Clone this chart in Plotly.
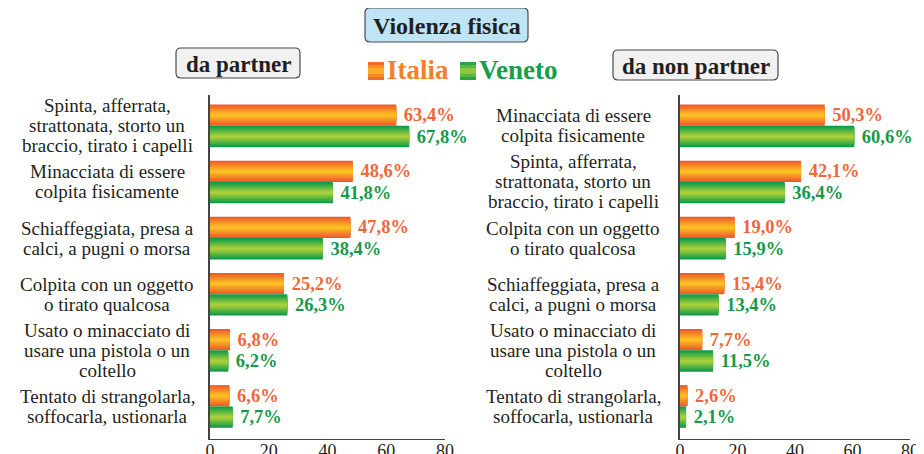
import plotly.graph_objects as go

W, H = 924, 454
OFF = 8  # the page body adds an 8px margin round the figure
MT, MB = 95 - OFF, 454 - 439 + OFF

# --- data ---
labels_partner = [
    "Spinta, afferrata,<br>strattonata, storto un<br>braccio, tirato i capelli",
    "Minacciata di essere<br>colpita fisicamente",
    "Schiaffeggiata, presa a<br>calci, a pugni o morsa",
    "Colpita con un oggetto<br>o tirato qualcosa",
    "Usato o minacciato di<br>usare una pistola o un<br>coltello",
    "Tentato di strangolarla,<br>soffocarla, ustionarla",
]
italia_partner = [63.4, 48.6, 47.8, 25.2, 6.8, 6.6]
veneto_partner = [67.8, 41.8, 38.4, 26.3, 6.2, 7.7]

labels_nonpartner = [
    "Minacciata di essere<br>colpita fisicamente",
    "Spinta, afferrata,<br>strattonata, storto un<br>braccio, tirato i capelli",
    "Colpita con un oggetto<br>o tirato qualcosa",
    "Schiaffeggiata, presa a<br>calci, a pugni o morsa",
    "Usato o minacciato di<br>usare una pistola o un<br>coltello",
    "Tentato di strangolarla,<br>soffocarla, ustionarla",
]
italia_nonpartner = [50.3, 42.1, 19.0, 15.4, 7.7, 2.6]
veneto_nonpartner = [60.6, 36.4, 15.9, 13.4, 11.5, 2.1]

FONT = "Liberation Serif"
DARK = "#231F20"
ORANGE_EDGE, ORANGE_MID = "#EE5A2B", "#FBBF24"
GREEN_EDGE, GREEN_MID = "#0E9C48", "#A9CF3A"
ORANGE_TXT, GREEN_TXT = "#F0673A", "#17994A"
N_LAYERS = 8
BW = 0.38


def mix(c1, c2, t):
    a = [int(c1[i:i + 2], 16) for i in (1, 3, 5)]
    b = [int(c2[i:i + 2], 16) for i in (1, 3, 5)]
    return "rgb(%d,%d,%d)" % tuple(round(x + (y - x) * t) for x, y in zip(a, b))


def fmt(v):
    return "\u00a0" + f"{v:.1f}".replace(".", ",") + "%"


# page pixel -> paper coordinate
def px_x(p):
    return (p - OFF) / W


def px_y(p):
    return (H - MB - (p - OFF)) / (H - MT - MB)


def rounded_box(x0, y0, x1, y1, r=5):
    X0, X1 = px_x(x0), px_x(x1)
    Y0, Y1 = px_y(y0), px_y(y1)
    rx, ry = r / W, r / (H - MT - MB)
    return (f"M{X0 + rx},{Y0} L{X1 - rx},{Y0} Q{X1},{Y0} {X1},{Y0 - ry} "
            f"L{X1},{Y1 + ry} Q{X1},{Y1} {X1 - rx},{Y1} L{X0 + rx},{Y1} "
            f"Q{X0},{Y1} {X0},{Y1 + ry} L{X0},{Y0 - ry} Q{X0},{Y0} {X0 + rx},{Y0} Z")


def add_series(fig, cats, vals, edge, mid, txtcol, side, xa, ya):
    # gradient faked with stacked narrower bars
    for k in range(N_LAYERS):
        w = BW * (1 - k / N_LAYERS)
        centre = side * BW / 2
        fig.add_trace(go.Bar(
            y=cats, x=vals, orientation="h",
            width=w, offset=centre - w / 2,
            marker=dict(color=mix(edge, mid, k / (N_LAYERS - 1)), line=dict(width=0)),
            text=[fmt(v) for v in vals] if k == 0 else None,
            textposition="outside" if k == 0 else "none",
            textfont=dict(family=FONT, size=18.5, color=txtcol, weight="bold"),
            cliponaxis=False, showlegend=False, hoverinfo="skip",
            xaxis=xa, yaxis=ya,
        ))


fig = go.Figure()
add_series(fig, labels_partner, italia_partner, ORANGE_EDGE, ORANGE_MID, ORANGE_TXT, -1, "x", "y")
add_series(fig, labels_partner, veneto_partner, GREEN_EDGE, GREEN_MID, GREEN_TXT, 1, "x", "y")
add_series(fig, labels_nonpartner, italia_nonpartner, ORANGE_EDGE, ORANGE_MID, ORANGE_TXT, -1, "x2", "y2")
add_series(fig, labels_nonpartner, veneto_nonpartner, GREEN_EDGE, GREEN_MID, GREEN_TXT, 1, "x2", "y2")

xax = dict(range=[0, 80], dtick=20, showgrid=False, zeroline=False, showline=True,
           linecolor="#444", linewidth=1, ticks="", automargin=False, ticklabelstandoff=-5,
           tickfont=dict(family=FONT, size=18, color=DARK))
yax = dict(type="category", range=[5.58, -0.55], showgrid=False, zeroline=False,
           showline=True, linecolor="#444", linewidth=1.5, showticklabels=False, ticks="",
           automargin=False)

fig.update_layout(
    template="none",
    width=W, height=H, barmode="overlay",
    margin=dict(l=0, r=0, t=MT, b=MB, autoexpand=False),
    paper_bgcolor="white", plot_bgcolor="white",
    xaxis=dict(xax, domain=[px_x(210), px_x(445)], anchor="y"),
    yaxis=dict(yax, categoryarray=labels_partner, anchor="x", domain=[0, 1]),
    xaxis2=dict(xax, domain=[px_x(680), px_x(910)], anchor="y2"),
    yaxis2=dict(yax, categoryarray=labels_nonpartner, anchor="x2", domain=[0, 1]),
    font=dict(family=FONT, color=DARK),
)

# category labels: one annotation per line so the line spacing stays tight
LINE = 20
for cats, xc, ya in ((labels_partner, 107, "y"), (labels_nonpartner, 573, "y2")):
    for c in cats:
        lines = c.split("<br>")
        for i, ln in enumerate(lines):
            fig.add_annotation(x=px_x(xc), xref="paper", y=c, yref=ya, text=ln,
                               xanchor="center", yanchor="middle",
                               yshift=-(i - (len(lines) - 1) / 2) * LINE,
                               showarrow=False, font=dict(family=FONT, size=19, color=DARK))

# boxed headings
for (x0, y0, x1, y1), fill, txt, size in (
        ((365, 8, 528, 42), "#BFE4F5", "Violenza fisica", 24),
        ((176, 48, 300, 78), "#F1F1F2", "da partner", 23),
        ((613, 50, 778, 80), "#F1F1F2", "da non partner", 23)):
    fig.add_shape(type="path", xref="paper", yref="paper", path=rounded_box(x0, y0, x1, y1),
                  fillcolor=fill, line=dict(color="#4A4A4A", width=1.2))
    fig.add_annotation(x=px_x((x0 + x1) / 2), y=px_y((y0 + y1) / 2 + 1), xref="paper", yref="paper",
                       text=f"<b>{txt}</b>", xanchor="center", yanchor="middle", showarrow=False,
                       font=dict(family=FONT, size=size, color=DARK))

# legend: gradient squares + coloured names
for x0, edge, mid, name, col in ((368, ORANGE_EDGE, ORANGE_MID, "Italia", "#F4802A"),
                                 (460, GREEN_EDGE, GREEN_MID, "Veneto", "#14A04B")):
    stripes = 6
    for s in range(stripes):
        t = 1 - abs((s + 0.5) / stripes - 0.5) * 2
        fig.add_shape(type="rect", xref="paper", yref="paper",
                      x0=px_x(x0), x1=px_x(x0 + 16),
                      y0=px_y(62 + s * 3), y1=px_y(62 + (s + 1) * 3),
                      fillcolor=mix(edge, mid, t), line=dict(width=0))
    fig.add_annotation(x=px_x(x0 + 17), y=px_y(70), xref="paper", yref="paper",
                       text=f"<b>{name}</b>", xanchor="left", yanchor="middle", showarrow=False,
                       font=dict(family=FONT, size=27, color=col))

fig.write_html("out.html")
